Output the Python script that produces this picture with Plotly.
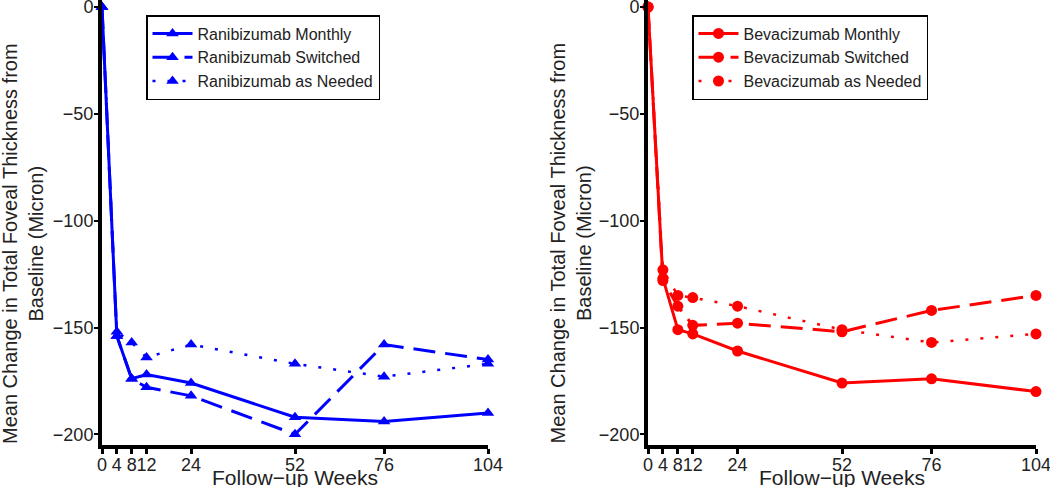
import plotly.graph_objects as go

weeks = [0, 4, 8, 12, 24, 52, 76, 104]
tick_labels = ["0", "4", "8", "12", "24", "52", "76", "104"]

rani_monthly = [0, -154, -174, -172, -176, -192, -194, -190]
rani_switched = [0, -154, -174, -178, -182, -200, -158, -165]
rani_prn = [0, -152, -157, -164, -158, -167, -173, -167]

beva_monthly = [0, -127, -151, -153, -161, -176, -174, -180]
beva_switched = [0, -128, -140, -149, -148, -152, -142, -135]
beva_prn = [0, -123, -135, -136, -140, -151, -157, -153]

y_ticks = [0, -50, -100, -150, -200]

BLUE = "#0000FF"
RED = "#FF0000"
FONT = "Liberation Sans, Arial, sans-serif"
TXT = "#222222"

dash_long = "22px,10px"
dot_sparse = "3px,12px"

fig = go.Figure()

def add(x, y, name, color, dash, symbol, xa, ya, legend, width=3):
    fig.add_trace(go.Scatter(
        x=x, y=y, name=name, mode="lines+markers",
        line=dict(color=color, width=width, dash=dash),
        marker=dict(color=color, size=11, symbol=symbol),
        xaxis=xa, yaxis=ya, legend=legend, cliponaxis=False,
    ))

add(weeks, rani_monthly, "Ranibizumab Monthly", BLUE, "solid", "triangle-up", "x", "y", "legend")
add(weeks, rani_switched, "Ranibizumab Switched", BLUE, dash_long, "triangle-up", "x", "y", "legend")
add(weeks, rani_prn, "Ranibizumab as Needed", BLUE, dot_sparse, "triangle-up", "x", "y", "legend", width=2.5)

add(weeks, beva_monthly, "Bevacizumab Monthly", RED, "solid", "circle", "x2", "y2", "legend2")
add(weeks, beva_switched, "Bevacizumab Switched", RED, dash_long, "circle", "x2", "y2", "legend2")
add(weeks, beva_prn, "Bevacizumab as Needed", RED, dot_sparse, "circle", "x2", "y2", "legend2", width=2.5)

W, H = 1050, 487
ydom = [1 - 445 / H, 1.0]
yr = [-205, 3.3]

xcommon = dict(
    range=[0, 104], tickmode="array", tickvals=weeks, ticktext=tick_labels,
    showline=True, linecolor="black", linewidth=4, ticks="outside",
    ticklen=5, tickwidth=3, tickcolor="black", showgrid=False, zeroline=False,
    tickangle=0, ticklabelstandoff=-5, ticklabeloverflow="allow", automargin=False,
    tickfont=dict(family=FONT, size=18, color=TXT),
)
ycommon = dict(
    range=yr, domain=ydom, tickmode="array", tickvals=y_ticks,
    showline=True, linecolor="black", linewidth=4, ticks="outside",
    ticklen=4, tickwidth=2, tickcolor="black", showgrid=False, zeroline=False,
    ticklabelstandoff=-3, ticklabeloverflow="allow", automargin=False,
    tickfont=dict(family=FONT, size=18, color=TXT),
)

legend_common = dict(
    xanchor="left", yanchor="top", bgcolor="white",
    bordercolor="black", borderwidth=1.5,
    font=dict(family=FONT, size=16, color=TXT),
    itemwidth=40,
)

ytitle = "Mean Change in Total Foveal Thickness from<br>Baseline (Micron)"

fig.update_layout(
    width=W, height=H, autosize=False,
    margin=dict(l=0, r=0, t=0, b=0, autoexpand=False),
    plot_bgcolor="white", paper_bgcolor="white",
    font=dict(family=FONT, color=TXT),
    xaxis=dict(domain=[102 / W, 488 / W], anchor="y", **xcommon),
    yaxis=dict(anchor="x", **ycommon),
    xaxis2=dict(domain=[648 / W, 1036 / W], anchor="y2", **xcommon),
    yaxis2=dict(anchor="x2", **ycommon),
    legend=dict(x=146 / W, y=1 - 15 / H, **legend_common),
    legend2=dict(x=692 / W, y=1 - 15 / H, **legend_common),
    annotations=[
        dict(text=ytitle, textangle=-90, x=22.5 / W, y=0.5, xref="paper", yref="paper",
             xanchor="center", yanchor="middle", showarrow=False,
             font=dict(family=FONT, size=20, color=TXT)),
        dict(text=ytitle, textangle=-90, x=570 / W, y=0.5, xref="paper", yref="paper",
             xanchor="center", yanchor="middle", showarrow=False,
             font=dict(family=FONT, size=20, color=TXT)),
        dict(text="Follow\u2212up Weeks", x=295 / W, y=1 - 477.5 / H, xref="paper", yref="paper",
             xanchor="center", yanchor="middle", showarrow=False,
             font=dict(family=FONT, size=21, color=TXT)),
        dict(text="Follow\u2212up Weeks", x=842 / W, y=1 - 477.5 / H, xref="paper", yref="paper",
             xanchor="center", yanchor="middle", showarrow=False,
             font=dict(family=FONT, size=21, color=TXT)),
    ],
)

fig.write_html("out.html", config={"displayModeBar": False},
               post_script="document.body.style.margin='0';")
